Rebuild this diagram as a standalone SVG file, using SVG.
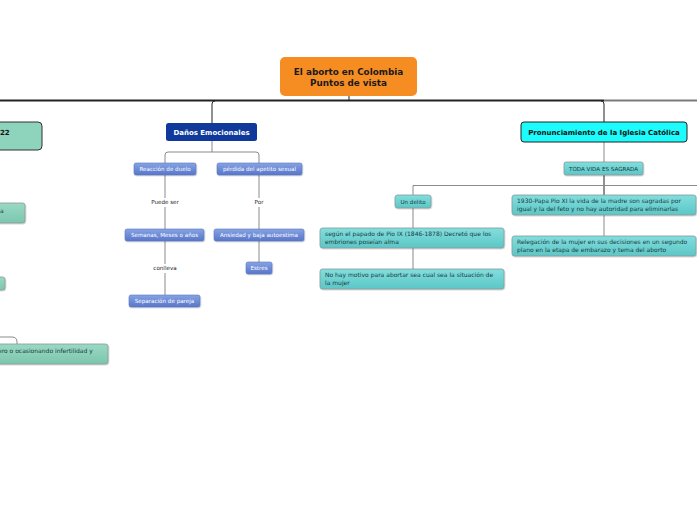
<svg xmlns="http://www.w3.org/2000/svg" width="697" height="520" viewBox="0 0 697 520">
<style>
text{font-family:"DejaVu Sans","Liberation Sans",sans-serif;}
.t{font-size:5.6px;fill:#fff;text-anchor:middle;}
.td{font-size:6px;fill:#1a3a3a;}
.tdc{font-size:5.6px;fill:#1a3a3a;text-anchor:middle;}
.lbl{font-size:5.6px;fill:#222;text-anchor:middle;}
.blue{fill:url(#gb);stroke:#5a78c0;stroke-width:0.6;filter:url(#sh);}
.teal{fill:url(#gt);stroke:#8a9a9a;stroke-width:0.8;filter:url(#sh);}
.mint{fill:url(#gm);stroke:#8a9a9a;stroke-width:0.8;filter:url(#sh);}
.c{fill:none;stroke:#8a8a8a;stroke-width:1;}
.cd{fill:none;stroke:#222;stroke-width:1;}
</style>
<defs>
<linearGradient id="gb" x1="0" y1="0" x2="0" y2="1"><stop offset="0" stop-color="#86a3e4"/><stop offset="1" stop-color="#5876c9"/></linearGradient>
<linearGradient id="gt" x1="0" y1="0" x2="0" y2="1"><stop offset="0" stop-color="#82dede"/><stop offset="1" stop-color="#5cc6c6"/></linearGradient>
<linearGradient id="gm" x1="0" y1="0" x2="0" y2="1"><stop offset="0" stop-color="#9ad9c4"/><stop offset="1" stop-color="#7cc6ae"/></linearGradient>
<filter id="sh" x="-10%" y="-30%" width="120%" height="170%"><feDropShadow dx="0.6" dy="0.8" stdDeviation="0.6" flood-color="#000" flood-opacity="0.25"/></filter>
</defs>
<rect width="697" height="520" fill="#fff"/>
<g id="connectors">
<path d="M0 100.5 H604" fill="none" stroke="#222" stroke-width="2"/>
<path d="M604 100.5 H697" fill="none" stroke="#7a7a7a" stroke-width="2"/>
<path d="M349 96 V100" class="cd" stroke-width="2"/>
<path d="M212 123 V104 Q212 101 215 101" class="cd"/>
<path d="M604 122 V104 Q604 101 601 101" class="cd"/>
<path d="M212 141 V152 M165 163 V155 Q165 152 168 152 H256 Q259 152 259 155 V163" class="c"/>
<path d="M165 175 V198 M165 207 V229 M165 241 V264 M165 273 V295" class="c"/>
<path d="M259 175 V198 M259 207 V229 M259 241 V262" class="c"/>
<path d="M604 142 V162" class="c"/>
<path d="M604 175 V195" class="cd" stroke-width="1.2"/>
<path d="M413 195 V185.5 H697" class="c"/>
<path d="M413 208 V269" class="c"/>
<path d="M604 215 V236" class="c"/>
<path d="M0 337 H12 Q17 337 17 342 V344" class="c"/>
</g>
<g id="central">
<rect x="280" y="57" width="137" height="39" rx="5" fill="#f68d23"/>
<text x="348.5" y="75" font-size="8.8" font-weight="bold" text-anchor="middle" fill="#1a1a1a">El aborto en Colombia</text>
<text x="348.5" y="86" font-size="8.8" font-weight="bold" text-anchor="middle" fill="#1a1a1a">Puntos de vista</text>
</g>
<g id="n22">
<rect x="-10" y="122" width="52" height="28" rx="4" fill="#8ed3bb" stroke="#333" stroke-width="1"/>
<text x="0" y="135" font-size="7" font-weight="bold" fill="#111">22</text>
</g>
<g id="danos">
<rect x="166" y="123" width="91" height="18" rx="2.5" fill="#0f3a9c"/>
<text x="211.5" y="135" font-size="7" font-weight="bold" text-anchor="middle" fill="#fff">Daños Emocionales</text>
</g>
<g id="pronunciamiento">
<rect x="521" y="122" width="166" height="20" rx="3" fill="#1cfcfc" stroke="#222" stroke-width="1"/>
<text x="604" y="135" font-size="7" font-weight="bold" text-anchor="middle" fill="#111">Pronunciamiento de la Iglesia Católica</text>
</g>
<g id="reaccion"><rect class="blue" x="134" y="163" width="62" height="12" rx="2"/><text class="t" x="165" y="171">Reacción de duelo</text></g>
<g id="perdida"><rect class="blue" x="217" y="163" width="85" height="12" rx="2"/><text class="t" x="259.5" y="171">pérdida del apetito sexual</text></g>
<g id="puede"><text class="lbl" x="165" y="204">Puede ser</text></g>
<g id="por"><text class="lbl" x="259" y="204">Por</text></g>
<g id="semanas"><rect class="blue" x="125" y="229" width="79" height="12" rx="2"/><text class="t" x="164.5" y="237">Semanas, Meses o años</text></g>
<g id="ansiedad"><rect class="blue" x="214" y="229" width="90" height="12" rx="2"/><text class="t" x="259" y="237">Ansiedad y baja autoestima</text></g>
<g id="conlleva"><text class="lbl" x="165" y="270">conlleva</text></g>
<g id="estres"><rect class="blue" x="246" y="262" width="26" height="12" rx="2"/><text class="t" x="259" y="270">Estres</text></g>
<g id="separacion"><rect class="blue" x="129" y="295" width="71" height="12" rx="2"/><text class="t" x="164.5" y="303">Separación de pareja</text></g>
<g id="toda"><rect class="teal" x="564" y="162" width="79" height="13" rx="2"/><text class="tdc" x="603.5" y="170.5" font-size="5">TODA VIDA ES SAGRADA</text></g>
<g id="delito"><rect class="teal" x="395" y="195" width="36" height="13" rx="2.5"/><text class="tdc" x="413" y="203.5">Un delito</text></g>
<g id="pio9"><rect class="teal" x="320" y="228" width="184" height="20" rx="2.5"/>
<text class="td" x="325" y="236">según el papado de Pio IX (1846-1878) Decretó que los</text>
<text class="td" x="325" y="244">embriones poseían alma</text></g>
<g id="motivo"><rect class="teal" x="320" y="269" width="184" height="20" rx="2.5"/>
<text class="td" x="325" y="277">No hay motivo para abortar sea cual sea la situación de</text>
<text class="td" x="325" y="285">la mujer</text></g>
<g id="pio11"><rect class="teal" x="512" y="195" width="184" height="20" rx="2.5"/>
<text class="td" x="517" y="203">1930-Papa Pio XI la vida de la madre son sagradas por</text>
<text class="td" x="517" y="211">igual y la del feto y no hay autoridad para eliminarlas</text></g>
<g id="relegacion"><rect class="teal" x="512" y="236" width="184" height="20" rx="2.5"/>
<text class="td" x="517" y="244">Relegación de la mujer en sus decisiones en un segundo</text>
<text class="td" x="517" y="252">plano en la etapa de embarazo y tema del aborto</text></g>
<g id="left1"><rect class="mint" x="-20" y="203" width="45" height="20" rx="2.5"/><text class="td" x="0" y="213">a</text></g>
<g id="left2"><rect class="mint" x="-20" y="277" width="25" height="13" rx="2.5"/></g>
<g id="left3"><rect class="mint" x="-80" y="344" width="188" height="20" rx="2.5"/><text class="td" x="-2" y="353">ero o ocasionando infertilidad y</text></g>
</svg>
